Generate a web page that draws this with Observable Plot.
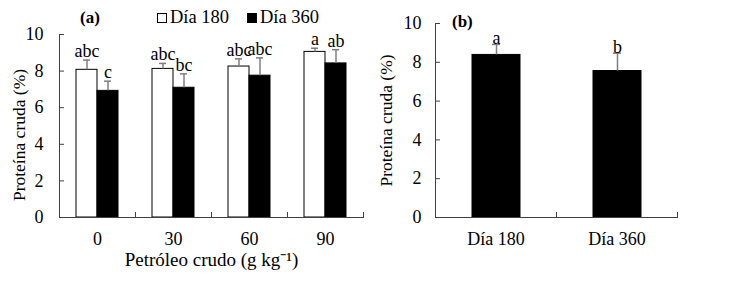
<!DOCTYPE html>
<html>
<head>
<meta charset="utf-8">
<script src="https://cdn.jsdelivr.net/npm/d3@7"></script>
<script src="https://cdn.jsdelivr.net/npm/@observablehq/plot@0.6"></script>
<style>
  body { margin: 0; background: white; }
  #wrap { position: relative; width: 737px; height: 308px; font-family: 'Liberation Serif', 'Times New Roman', serif; color: black; }
  #wrap > .p { position: absolute; top: 0; }
  .lab { position: absolute; white-space: nowrap; line-height: 18px; }
  .sw { position: absolute; width: 8px; height: 8px; border: 1px solid black; }
</style>
</head>
<body>
<div id="wrap">
  <div class="p" id="pa" style="left:0"></div>
  <div class="p" id="pb" style="left:370px"></div>
  <span class="lab" style="left:80px; top:9px; font-size:17px; font-weight:bold">(a)</span>
  <span class="sw" style="left:157px; top:13px; background:white"></span>
  <span class="lab" style="left:170px; top:8px; font-size:18.5px">Día 180</span>
  <span class="sw" style="left:247px; top:13px; background:black"></span>
  <span class="lab" style="left:260px; top:8px; font-size:18.5px">Día 360</span>
  <span class="lab" style="left:452px; top:13px; font-size:17px; font-weight:bold">(b)</span>
</div>
<script>
// ---- data ----
const doses = ["0", "30", "60", "90"];
const days = ["Día 180", "Día 360"];
const protein180 = [8.07, 8.12, 8.25, 9.05];
const sd180 = [0.53, 0.30, 0.42, 0.20];
const letters180 = ["abc", "abc", "abc", "a"];
const protein360 = [6.92, 7.09, 7.75, 8.42];
const sd360 = [0.53, 0.76, 0.97, 0.75];
const letters360 = ["c", "bc", "abc", "ab"];
const meanByDay = [8.38, 7.55];
const sdByDay = [0.54, 0.92];
const lettersByDay = ["a", "b"];
const yTicks = [0, 2, 4, 6, 8, 10];
const yLabel = "Proteína cruda (%)";
const xLabelA = "Petróleo crudo (g kg\u207B\u00B9)";

const dataA = doses.flatMap((d, i) => [
  {dose: d, day: days[0], value: protein180[i], sd: sd180[i], letter: letters180[i]},
  {dose: d, day: days[1], value: protein360[i], sd: sd360[i], letter: letters360[i]}
]);
const dataB = days.map((d, i) => ({day: d, value: meanByDay[i], sd: sdByDay[i], letter: lettersByDay[i]}));

const style = {fontFamily: "'Liberation Serif', 'Times New Roman', serif", fontSize: "18px", color: "black", background: "transparent", overflow: "visible"};
const axisColor = "#404040";
const errColor = "#7f7f7f";
const errTop = d => d.value + d.sd;

const plotA = Plot.plot({
  width: 370, height: 308,
  marginLeft: 57, marginRight: 6, marginTop: 34, marginBottom: 91,
  style,
  fx: {domain: doses, padding: 0},
  x: {domain: days, paddingInner: 0, paddingOuter: 0.745, axis: null},
  y: {domain: [0, 10]},
  color: {domain: days, range: ["white", "black"]},
  marks: [
    Plot.barY(dataA, {fx: "dose", x: "day", y: "value", fill: "day", stroke: "black", strokeWidth: 1}),
    Plot.ruleX(dataA, {fx: "dose", x: "day", y1: "value", y2: errTop, stroke: errColor, strokeWidth: 1.5}),
    Plot.tickY(dataA, {fx: "dose", x: "day", y: errTop, stroke: errColor, strokeWidth: 1.5, insetLeft: 7, insetRight: 7}),
    Plot.text(dataA, {fx: "dose", x: "day", y: errTop, text: "letter", lineAnchor: "bottom", dy: -3, fontSize: 18}),
    Plot.frame({anchor: "bottom", stroke: axisColor}),
    Plot.frame({anchor: "left", facetAnchor: "left", stroke: axisColor}),
    Plot.frame({anchor: "right", insetTop: 178, stroke: axisColor}),
    Plot.axisY({ticks: yTicks, tickSize: 5, dx: 5, tickPadding: 16, label: null, stroke: axisColor}),
    Plot.axisFx({anchor: "bottom", tickSize: 0, tickPadding: 15, label: null}),
    Plot.axisFx({anchor: "bottom", ticks: [], tickSize: 0, label: xLabelA, labelAnchor: "center", labelOffset: 48, fontSize: 19}),
    Plot.text([yLabel], {text: d => d, frameAnchor: "left", textAnchor: "middle", rotate: -90, dx: -40, dy: 9, facetAnchor: "left", fontSize: 17.5})
  ]
});
document.getElementById("pa").append(plotA);

const plotB = Plot.plot({
  width: 367, height: 308,
  marginLeft: 64, marginRight: 60, marginTop: 23, marginBottom: 91,
  style,
  fx: {domain: days, padding: 0},
  x: {domain: ["all"], paddingInner: 0, paddingOuter: 0.75, axis: null},
  y: {domain: [0, 10]},
  marks: [
    Plot.barY(dataB, {fx: "day", x: () => "all", y: "value", fill: "black", stroke: "black"}),
    Plot.ruleX(dataB, {fx: "day", x: () => "all", y1: "value", y2: errTop, stroke: errColor, strokeWidth: 1.5}),
    Plot.tickY(dataB, {fx: "day", x: () => "all", y: errTop, stroke: errColor, strokeWidth: 1.5, insetLeft: 20, insetRight: 20}),
    Plot.text(dataB, {fx: "day", x: () => "all", y: errTop, text: "letter", lineAnchor: "bottom", dy: 0, fontSize: 18}),
    Plot.frame({anchor: "bottom", stroke: axisColor}),
    Plot.frame({anchor: "left", facetAnchor: "left", stroke: axisColor}),
    Plot.frame({anchor: "right", insetTop: 189, stroke: axisColor}),
    Plot.axisY({ticks: yTicks, tickSize: 5, dx: 5, tickPadding: 14, label: null, stroke: axisColor}),
    Plot.axisFx({anchor: "bottom", tickSize: 0, tickPadding: 15, label: null}),
    Plot.text([yLabel], {text: d => d, frameAnchor: "left", textAnchor: "middle", rotate: -90, dx: -49, facetAnchor: "left", fontSize: 17.5})
  ]
});
document.getElementById("pb").append(plotB);
</script>
</body>
</html>
